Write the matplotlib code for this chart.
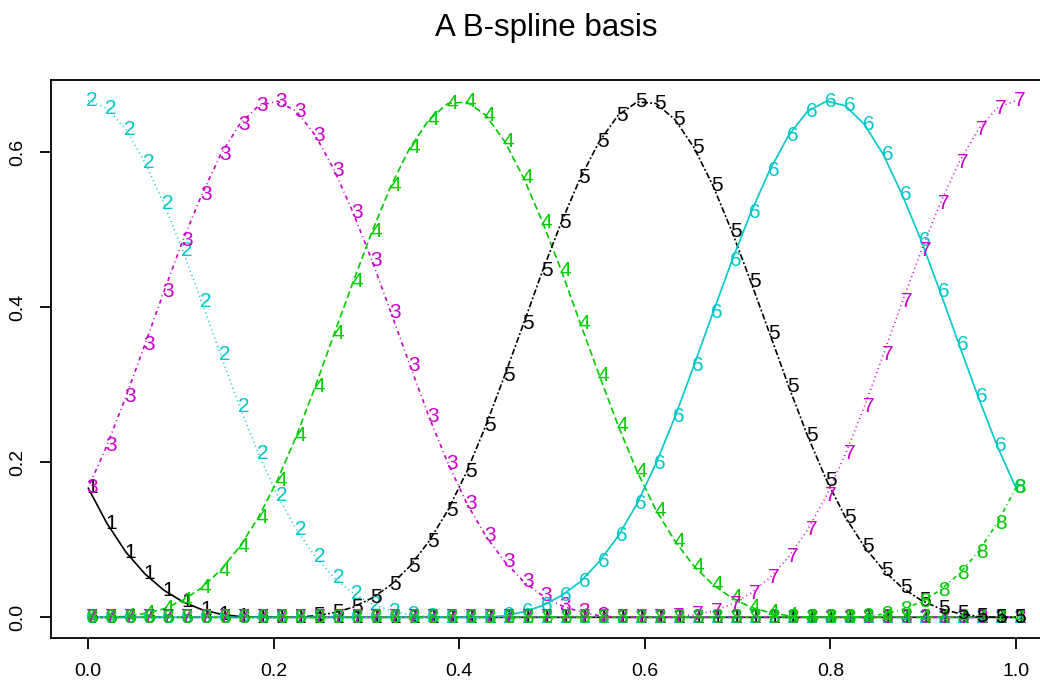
import matplotlib
matplotlib.use("Agg")
import matplotlib.pyplot as plt
from matplotlib.transforms import offset_copy

# 50 evaluation points on [0, 1] (i/49)
x = [i / 49 for i in range(50)]

basis1 = [.167, .121, .084, .056, .035, .020, .010, .004, .001, .000] + [0] * 40
basis2 = [.667, .657, .629, .587, .534, .473, .407, .339, .272, .211,
          .157, .113, .078, .051, .031, .017, .008, .003, .001, .000] + [0] * 30
basis3 = [.167, .222, .285, .352, .420, .486, .545, .597, .636, .660,
          .666, .653, .622, .577, .522, .460, .393, .325, .259, .199,
          .147, .105, .072, .046, .028, .015, .007, .002, .000, .000] + [0] * 20
basis4 = [.000, .000, .001, .005, .011, .022, .038, .061, .091, .129,
          .177, .234, .298, .366, .433, .498, .557, .606, .642, .663,
          .665, .648, .614, .567, .510, .447, .379, .312, .247, .188,
          .138, .098, .066, .042, .025, .013, .006, .002, .000, .000] + [0] * 10
basis5 = [0] * 10 + [.000, .000, .002, .006, .013, .025, .042, .066, .098, .138,
                     .188, .247, .312, .379, .447, .510, .567, .614, .648, .665,
                     .663, .642, .606, .557, .498, .433, .366, .298, .234, .177,
                     .129, .091, .061, .038, .022, .011, .005, .001, .000, .000]
basis6 = [0] * 20 + [.000, .000, .002, .007, .015, .028, .046, .072, .105, .147,
                     .199, .259, .325, .393, .460, .522, .577, .622, .653, .666,
                     .660, .636, .597, .545, .486, .420, .352, .285, .222, .167]
basis7 = [0] * 30 + [.000, .001, .003, .008, .017, .031, .051, .078, .113, .157,
                     .211, .272, .339, .407, .473, .534, .587, .629, .657, .667]
basis8 = [0] * 40 + [.000, .001, .004, .010, .020, .035, .056, .084, .121, .167]

series = [basis1, basis2, basis3, basis4, basis5, basis6, basis7, basis8]
labels = ["1", "2", "3", "4", "5", "6", "7", "8"]
colors = ["black", "#00C8C8", "#CC00CC", "#00CC00"] * 2

solid = (0, ())
dotted = (0, (0.7, 2.5))
dotdash = (0, (0.7, 2.5, 3, 2.5))
longdash = (0, (5, 2.5))
twodash = (0, (1.4, 1.6, 4.5, 1.6))
styles = [solid, dotted, dotdash, longdash, twodash, solid, dotted, dotdash]


def main():
    plt.rcParams["font.family"] = ["Liberation Sans", "DejaVu Sans"]
    plt.rcParams["lines.scale_dashes"] = False
    fig = plt.figure(figsize=(10.4, 6.85), dpi=100)
    ax = fig.add_axes([51 / 1040, 47 / 685, 1002 / 1040, 558 / 685])
    shifted = offset_copy(ax.transData, fig=fig, x=4, y=0, units="dots")

    for k in range(len(series)):
        ax.plot(x, series[k], color=colors[k], linestyle=styles[k], lw=1.2, zorder=2 + 2 * k)
        for xi, yi in zip(x, series[k]):
            ax.text(xi, yi, labels[k], color=colors[k], fontsize=15, transform=shifted,
                    ha="center", va="center", zorder=3 + 2 * k)

    ax.set_xlim(-0.04, 1.04)
    ax.set_ylim(-0.0267, 0.6933)
    ax.set_xticks([0.0, 0.2, 0.4, 0.6, 0.8, 1.0])
    ax.set_yticks([0.0, 0.2, 0.4, 0.6])
    ax.set_xticklabels(["0.0", "0.2", "0.4", "0.6", "0.8", "1.0"])
    ax.set_yticklabels(["0.0", "0.2", "0.4", "0.6"], rotation=90, va="center")
    ax.tick_params(length=8, width=1.3, labelsize=14, pad=10)
    for s in ax.spines.values():
        s.set_linewidth(1.3)

    fig.text(546 / 1040, 1 - 28 / 685, "A B-spline basis", fontsize=22.5,
             ha="center", va="center")

    fig.savefig("out.png", dpi=100)


if __name__ == "__main__":
    main()
